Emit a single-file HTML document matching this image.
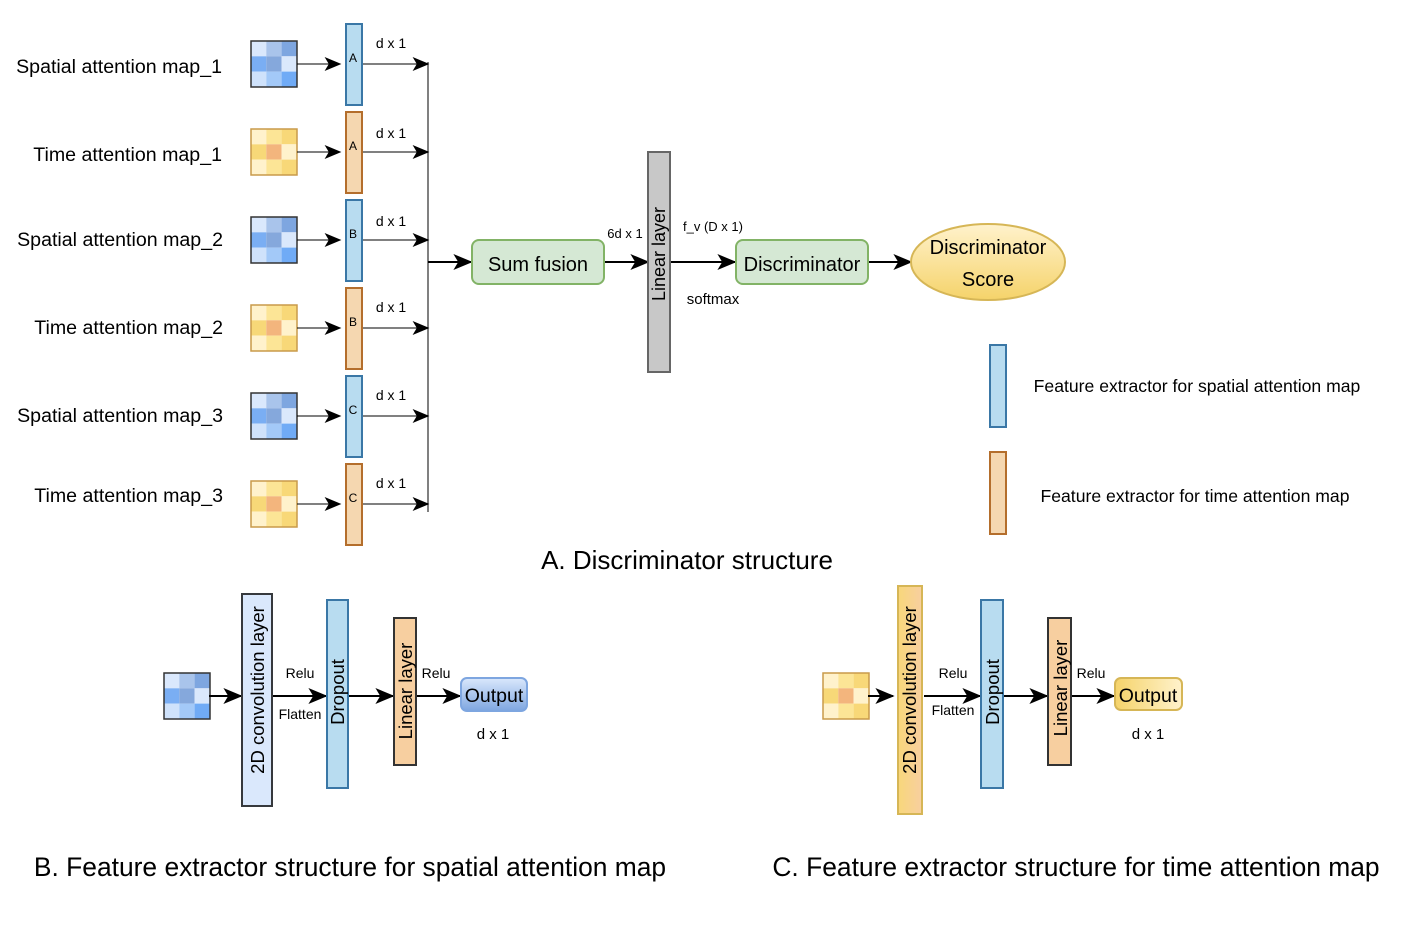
<!DOCTYPE html>
<html><head><meta charset="utf-8"><style>
html,body{margin:0;padding:0;background:#fff;}
svg{display:block;font-family:"Liberation Sans",Arial,sans-serif;}
</style></head><body>
<svg width="1404" height="930" viewBox="0 0 1404 930" xmlns="http://www.w3.org/2000/svg">
<defs>
<marker id="arL" viewBox="0 0 12 10" refX="11" refY="5" markerWidth="20" markerHeight="16" markerUnits="userSpaceOnUse" orient="auto">
<path d="M0,0 L12,5 L0,10 L3,5 z" fill="#000"/></marker>
<marker id="arS" viewBox="0 0 12 10" refX="11" refY="5" markerWidth="17" markerHeight="14" markerUnits="userSpaceOnUse" orient="auto">
<path d="M0,0 L12,5 L0,10 L3,5 z" fill="#000"/></marker>
<g id="bm">
<rect x="0" y="0" width="15.3" height="15.3" fill="#dae8fc"/><rect x="15.3" y="0" width="15.3" height="15.3" fill="#a9c4eb"/><rect x="30.6" y="0" width="15.4" height="15.3" fill="#7ea6e0"/>
<rect x="0" y="15.3" width="15.3" height="15.3" fill="#7aaef3"/><rect x="15.3" y="15.3" width="15.3" height="15.3" fill="#85a8dc"/><rect x="30.6" y="15.3" width="15.4" height="15.3" fill="#dae8fc"/>
<rect x="0" y="30.6" width="15.3" height="15.4" fill="#cfe2fb"/><rect x="15.3" y="30.6" width="15.3" height="15.4" fill="#a3c9f8"/><rect x="30.6" y="30.6" width="15.4" height="15.4" fill="#70abf6"/>
<rect x="0" y="0" width="46" height="46" fill="none" stroke="#333" stroke-width="1.5"/></g>
<g id="om">
<rect x="0" y="0" width="15.3" height="15.3" fill="#fff2cc"/><rect x="15.3" y="0" width="15.3" height="15.3" fill="#fce596"/><rect x="30.6" y="0" width="15.4" height="15.3" fill="#f8d878"/>
<rect x="0" y="15.3" width="15.3" height="15.3" fill="#f7d878"/><rect x="15.3" y="15.3" width="15.3" height="15.3" fill="#f3b57d"/><rect x="30.6" y="15.3" width="15.4" height="15.3" fill="#fff2cc"/>
<rect x="0" y="30.6" width="15.3" height="15.4" fill="#fff2cc"/><rect x="15.3" y="30.6" width="15.3" height="15.4" fill="#fce596"/><rect x="30.6" y="30.6" width="15.4" height="15.4" fill="#f8d878"/>
<rect x="0" y="0" width="46" height="46" fill="none" stroke="#c99a4a" stroke-width="1.5"/></g>
<linearGradient id="gb" x1="0" y1="1" x2="0" y2="0"><stop offset="0" stop-color="#7ea6e0"/><stop offset="1" stop-color="#dae8fc"/></linearGradient>
<linearGradient id="gy" x1="0" y1="1" x2="0" y2="0"><stop offset="0" stop-color="#f5d36a"/><stop offset="1" stop-color="#fff2cc"/></linearGradient>
<linearGradient id="gyh" x1="0" y1="0" x2="1" y2="0"><stop offset="0" stop-color="#f5d36a"/><stop offset="1" stop-color="#fff2cc"/></linearGradient>
<linearGradient id="gc" x1="0" y1="0" x2="1" y2="0"><stop offset="0" stop-color="#f8d77a"/><stop offset="1" stop-color="#f8cfa0"/></linearGradient>
</defs>

<g font-size="19.6" fill="#000" text-anchor="end">
<text x="222" y="73">Spatial attention map_1</text>
<text x="222" y="161">Time attention map_1</text>
<text x="223" y="246">Spatial attention map_2</text>
<text x="223" y="334">Time attention map_2</text>
<text x="223" y="422">Spatial attention map_3</text>
<text x="223" y="502">Time attention map_3</text>
</g>

<use href="#bm" x="251" y="41"/><use href="#om" x="251" y="129"/>
<use href="#bm" x="251" y="217"/><use href="#om" x="251" y="305"/>
<use href="#bm" x="251" y="393"/><use href="#om" x="251" y="481"/>

<g stroke="#000" stroke-width="1" fill="none" marker-end="url(#arS)">
<line x1="297" y1="64" x2="340" y2="64"/><line x1="297" y1="152" x2="340" y2="152"/>
<line x1="297" y1="240" x2="340" y2="240"/><line x1="297" y1="328" x2="340" y2="328"/>
<line x1="297" y1="416" x2="340" y2="416"/><line x1="297" y1="504" x2="340" y2="504"/>
<line x1="362" y1="64" x2="428" y2="64"/><line x1="362" y1="152" x2="428" y2="152"/>
<line x1="362" y1="240" x2="428" y2="240"/><line x1="362" y1="328" x2="428" y2="328"/>
<line x1="362" y1="416" x2="428" y2="416"/><line x1="362" y1="504" x2="428" y2="504"/>
</g>
<line x1="428" y1="62" x2="428" y2="512" stroke="#000" stroke-width="1"/>

<g stroke-width="2">
<rect x="346" y="24" width="16" height="81" fill="#b8dcf0" stroke="#3a77a6"/>
<rect x="346" y="112" width="16" height="81" fill="#f5d7b0" stroke="#b46e2c"/>
<rect x="346" y="200" width="16" height="81" fill="#b8dcf0" stroke="#3a77a6"/>
<rect x="346" y="288" width="16" height="81" fill="#f5d7b0" stroke="#b46e2c"/>
<rect x="346" y="376" width="16" height="81" fill="#b8dcf0" stroke="#3a77a6"/>
<rect x="346" y="464" width="16" height="81" fill="#f5d7b0" stroke="#b46e2c"/>
</g>
<g font-size="12" text-anchor="middle">
<text x="353" y="62">A</text><text x="353" y="150">A</text><text x="353" y="238">B</text>
<text x="353" y="326">B</text><text x="353" y="414">C</text><text x="353" y="502">C</text>
</g>
<g font-size="14" text-anchor="middle">
<text x="391" y="48">d x 1</text><text x="391" y="138">d x 1</text><text x="391" y="226">d x 1</text>
<text x="391" y="312">d x 1</text><text x="391" y="400">d x 1</text><text x="391" y="488">d x 1</text>
</g>

<g stroke="#000" stroke-width="2" fill="none" marker-end="url(#arL)">
<line x1="428" y1="262" x2="471" y2="262"/>
<line x1="604" y1="262" x2="648" y2="262"/>
<line x1="670" y1="262" x2="735" y2="262"/>
<line x1="868" y1="262" x2="911" y2="262"/>
</g>
<rect x="472" y="240" width="132" height="44" rx="7" fill="#d5e8d4" stroke="#82b366" stroke-width="2"/>
<text x="538" y="271" font-size="20" text-anchor="middle">Sum fusion</text>
<rect x="648" y="152" width="22" height="220" fill="#c8c8c8" stroke="#666" stroke-width="2"/>
<text transform="translate(665,254) rotate(-90)" font-size="18" text-anchor="middle">Linear layer</text>
<text x="625" y="238" font-size="13" text-anchor="middle">6d x 1</text>
<text x="713" y="231" font-size="13" text-anchor="middle">f_v (D x 1)</text>
<text x="713" y="304" font-size="15" text-anchor="middle">softmax</text>
<rect x="736" y="240" width="132" height="44" rx="7" fill="#d5e8d4" stroke="#82b366" stroke-width="2"/>
<text x="802" y="271" font-size="20" text-anchor="middle">Discriminator</text>
<ellipse cx="988" cy="262" rx="77" ry="38" fill="url(#gy)" stroke="#d6b656" stroke-width="2"/>
<text x="988" y="254" font-size="20" text-anchor="middle">Discriminator</text>
<text x="988" y="286" font-size="20" text-anchor="middle">Score</text>

<rect x="990" y="345" width="16" height="82" fill="#b8dcf0" stroke="#3a77a6" stroke-width="2"/>
<rect x="990" y="452" width="16" height="82" fill="#f5d7b0" stroke="#b46e2c" stroke-width="2"/>
<text x="1197" y="392" font-size="17.6" text-anchor="middle">Feature extractor for spatial attention map</text>
<text x="1195" y="502" font-size="17.6" text-anchor="middle">Feature extractor for time attention map</text>
<text x="687" y="569" font-size="26" text-anchor="middle">A. Discriminator structure</text>

<!-- B -->
<use href="#bm" x="164" y="673"/>
<g stroke="#000" stroke-width="2" fill="none" marker-end="url(#arL)">
<line x1="209" y1="696" x2="241" y2="696"/>
<line x1="272" y1="696" x2="326" y2="696"/>
<line x1="348" y1="696" x2="393" y2="696"/>
<line x1="416" y1="696" x2="460" y2="696"/>
</g>
<rect x="242" y="594" width="30" height="212" fill="#dae8fc" stroke="#36393d" stroke-width="2"/>
<text transform="translate(264,690) rotate(-90)" font-size="18.5" text-anchor="middle">2D convolution layer</text>
<rect x="327" y="600" width="21" height="188" fill="#b8dcf0" stroke="#3a77a6" stroke-width="2"/>
<text transform="translate(344,692) rotate(-90)" font-size="18.5" text-anchor="middle">Dropout</text>
<rect x="394" y="618" width="22" height="147" fill="#f7cfa0" stroke="#333" stroke-width="2"/>
<text transform="translate(412,691) rotate(-90)" font-size="18.5" text-anchor="middle">Linear layer</text>
<text x="300" y="678" font-size="14" text-anchor="middle">Relu</text>
<text x="300" y="719" font-size="14" text-anchor="middle">Flatten</text>
<text x="436" y="678" font-size="14" text-anchor="middle">Relu</text>
<rect x="461" y="678" width="66" height="33" rx="6" fill="url(#gb)" stroke="#7ea6e0" stroke-width="2"/>
<text x="494" y="702" font-size="19.5" text-anchor="middle">Output</text>
<text x="493" y="739" font-size="15" text-anchor="middle">d x 1</text>
<text x="350" y="876" font-size="26.4" text-anchor="middle">B. Feature extractor structure for spatial attention map</text>

<!-- C -->
<use href="#om" x="823" y="673"/>
<g stroke="#000" stroke-width="2" fill="none" marker-end="url(#arL)">
<line x1="868" y1="696" x2="893" y2="696"/>
<line x1="924" y1="696" x2="980" y2="696"/>
<line x1="1003" y1="696" x2="1047" y2="696"/>
<line x1="1071" y1="696" x2="1114" y2="696"/>
</g>
<rect x="898" y="586" width="24" height="228" fill="url(#gc)" stroke="#d6b656" stroke-width="2"/>
<text transform="translate(916,690) rotate(-90)" font-size="18.5" text-anchor="middle">2D convolution layer</text>
<rect x="981" y="600" width="22" height="188" fill="#b8dcf0" stroke="#3a77a6" stroke-width="2"/>
<text transform="translate(999,692) rotate(-90)" font-size="18.5" text-anchor="middle">Dropout</text>
<rect x="1048" y="618" width="23" height="147" fill="#f7cfa0" stroke="#333" stroke-width="2"/>
<text transform="translate(1067,688) rotate(-90)" font-size="18.5" text-anchor="middle">Linear layer</text>
<text x="953" y="678" font-size="14" text-anchor="middle">Relu</text>
<text x="953" y="715" font-size="14" text-anchor="middle">Flatten</text>
<text x="1091" y="678" font-size="14" text-anchor="middle">Relu</text>
<rect x="1115" y="678" width="67" height="32" rx="6" fill="url(#gyh)" stroke="#d6b656" stroke-width="2"/>
<text x="1148" y="702" font-size="19.5" text-anchor="middle">Output</text>
<text x="1148" y="739" font-size="15" text-anchor="middle">d x 1</text>
<text x="1076" y="876" font-size="26.4" text-anchor="middle">C. Feature extractor structure for time attention map</text>
</svg>
</body></html>
